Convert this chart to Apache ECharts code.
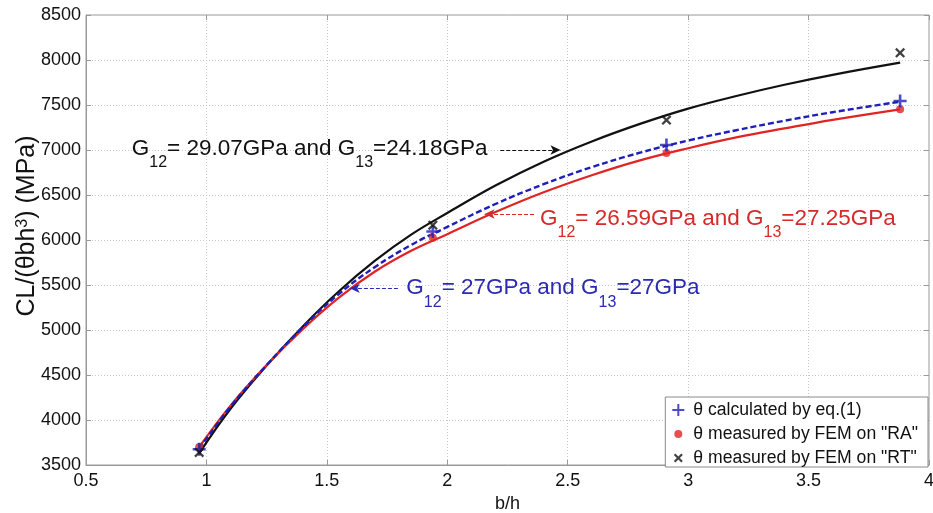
<!DOCTYPE html>
<html>
<head>
<meta charset="utf-8">
<script src="https://cdn.jsdelivr.net/npm/echarts@6/dist/echarts.min.js"></script>
<style>
html,body{margin:0;padding:0;background:#fff;}
#chart{width:933px;height:513px;}
</style>
</head>
<body>
<div id="chart"></div>
<script>
// ---- data ----
const curveX = [0.97, 1.1, 1.25, 1.4, 1.55, 1.7, 1.85, 2.0, 2.2, 2.4, 2.6, 2.8, 3.0, 3.2, 3.4, 3.6, 3.88];
const curveBlack = [3630, 4125, 4605, 5040, 5430, 5770, 6060, 6300, 6605, 6870, 7095, 7290, 7460, 7600, 7725, 7835, 7970];
const curveBlue  = [3680, 4150, 4610, 5030, 5400, 5700, 5945, 6145, 6400, 6620, 6810, 6970, 7105, 7220, 7325, 7420, 7537];
const curveRed   = [3700, 4160, 4610, 5010, 5360, 5650, 5880, 6065, 6310, 6530, 6720, 6885, 7020, 7140, 7240, 7335, 7452];

const pointX = [0.97, 1.94, 2.91, 3.88];
const ptCalc = [3675, 6095, 7055, 7545];   // + theta calculated by eq.(1)
const ptRA   = [3700, 6025, 6967, 7452];   // red dots, FEM "RA"
const ptRT   = [3640, 6165, 7333, 8080];   // black x, FEM "RT"

const xTicks = ['0.5', '1', '1.5', '2', '2.5', '3', '3.5', '4'];
const yTicks = [3500, 4000, 4500, 5000, 5500, 6000, 6500, 7000, 7500, 8000, 8500];

const legendNames = ['\u03b8 calculated by eq.(1)', '\u03b8 measured by FEM on "RA"', '\u03b8 measured by FEM on "RT"'];
const yTitle = 'CL/(\u03b8bh{sup|3}) (MPa)';
const xTitle = 'b/h';

// annotation anchors (data coords): text start, arrow tail -> arrow tip
const annBlack = {x: 0.69, y: 6955, ax0: 2.22, ax1: 2.47, ay: 7000, g12: '29.07', g13: '24.18'};
const annRed   = {x: 2.385, y: 6180, ax0: 2.36, ax1: 2.155, ay: 6289, g12: '26.59', g13: '27.25'};
const annBlue  = {x: 1.83, y: 5405, ax0: 1.795, ax1: 1.595, ay: 5463, g12: '27', g13: '27'};

const BLUE = '#1f1fb8', RED = '#e02424', BLACK = '#111111';
const FONT = '"Liberation Sans", Arial, sans-serif';

const PLUS = 'path://M4,0 H6 V4 H10 V6 H6 V10 H4 V6 H0 V4 H4 Z';
const CROSS = 'path://M0,1.6 L1.6,0 L5,3.4 L8.4,0 L10,1.6 L6.6,5 L10,8.4 L8.4,10 L5,6.6 L1.6,10 L0,8.4 L3.4,5 Z';
const PLUS_ICON = 'path://M0,0 M12,12 M5,0 H7 V5 H12 V7 H7 V12 H5 V7 H0 V5 H5 Z';
const DOT_ICON = 'path://M0,0 M12,12 M6,2 A4,4 0 1,1 6,10 A4,4 0 1,1 6,2 Z';
const CROSS_ICON = 'path://M0,0 M12,12 M1.5,3 L3,1.5 L6,4.5 L9,1.5 L10.5,3 L7.5,6 L10.5,9 L9,10.5 L6,7.5 L3,10.5 L1.5,9 L4.5,6 Z';

function zip(xs, ys){ return xs.map((x, i) => [x, ys[i]]); }

function annText(a, color){
  return {
    show: true,
    formatter: '{m|G}{s|12}{m|= ' + a.g12 + 'GPa and G}{s|13}{m|=' + a.g13 + 'GPa}',
    position: 'right', distance: 0,
    rich: {
      m: {fontSize: 22.5, color: color, fontFamily: FONT, verticalAlign: 'top'},
      s: {fontSize: 16, color: color, fontFamily: FONT, verticalAlign: 'top', padding: [18, 0, 0, 0]}
    }
  };
}

function annotate(a, color){
  return {
    markPoint: {
      silent: true, animation: false, symbol: 'circle', symbolSize: 0,
      data: [{coord: [a.x, a.y], label: annText(a, color)}]
    },
    markLine: {
      silent: true, animation: false, symbol: ['none', 'arrow'], symbolSize: [7, 10],
      label: {show: false},
      lineStyle: {type: [4, 2], width: 1, color: color},
      data: [[{coord: [a.ax0, a.ay]}, {coord: [a.ax1, a.ay]}]]
    }
  };
}

const chart = echarts.init(document.getElementById('chart'), null, {renderer: 'canvas'});

const option = {
  animation: false,
  backgroundColor: '#fff',
  textStyle: {fontFamily: FONT},
  grid: {left: 86, right: 4, top: 15, bottom: 48, containLabel: false, outerBoundsMode: 'none',
    show: true, borderColor: '#9a9a9a', borderWidth: 1},
  graphic: [{
    type: 'text', x: 27, y: 226, rotation: Math.PI / 2, silent: true,
    style: {
      text: yTitle, fill: '#111', font: '25px ' + FONT, align: 'center', verticalAlign: 'middle',
      rich: {sup: {fontSize: 16, fill: '#111', fontFamily: FONT, verticalAlign: 'top'}}
    }
  }],
  xAxis: [{
    type: 'value', min: 0.5, max: 4, interval: 0.5,
    name: xTitle, nameLocation: 'middle', nameGap: 22,
    nameTextStyle: {fontSize: 18, color: '#111', fontFamily: FONT},
    axisLine: {show: true, lineStyle: {color: '#9a9a9a'}},
    axisTick: {show: true, inside: true, length: 5, lineStyle: {color: '#9a9a9a'}},
    axisLabel: {fontSize: 18, color: '#111', margin: 7, fontFamily: FONT,
      formatter: v => xTicks[Math.round((v - 0.5) / 0.5)]},
    splitLine: {show: true, lineStyle: {type: [1, 2], color: '#c8c8c8'}}
  }, {
    type: 'value', position: 'top', min: 0.5, max: 4, interval: 0.5,
    axisLine: {show: false}, axisLabel: {show: false}, splitLine: {show: false},
    axisTick: {show: true, inside: true, length: 5, lineStyle: {color: '#9a9a9a'}}
  }],
  yAxis: [{
    type: 'value', min: 3500, max: 8500, interval: 500,
    axisLine: {show: true, lineStyle: {color: '#9a9a9a'}},
    axisTick: {show: true, inside: true, length: 5, lineStyle: {color: '#9a9a9a'}},
    axisLabel: {fontSize: 18, color: '#111', margin: 5, fontFamily: FONT,
      formatter: v => yTicks.indexOf(v) >= 0 ? String(v) : ''},
    splitLine: {show: true, lineStyle: {type: [1, 2], color: '#c8c8c8'}}
  }, {
    type: 'value', position: 'right', min: 3500, max: 8500, interval: 500,
    axisLine: {show: false}, axisLabel: {show: false}, splitLine: {show: false},
    axisTick: {show: true, inside: true, length: 5, lineStyle: {color: '#9a9a9a'}}
  }],
  legend: {
    orient: 'vertical', right: 5, bottom: 46,
    backgroundColor: '#fff', borderColor: '#8a8a8a', borderWidth: 1, borderRadius: 0,
    padding: [4, 10, 0, 7], itemGap: 6, itemWidth: 20, itemHeight: 12,
    textStyle: {fontSize: 17.6, color: '#111', fontFamily: FONT},
    data: [
      {name: legendNames[0], icon: PLUS_ICON},
      {name: legendNames[1], icon: DOT_ICON},
      {name: legendNames[2], icon: CROSS_ICON}
    ]
  },
  series: [
    Object.assign({
      name: 'black-curve', type: 'line', smooth: 0.4, showSymbol: false, symbol: 'none',
      data: zip(curveX, curveBlack), lineStyle: {color: BLACK, width: 2.2}, z: 3
    }, annotate(annBlack, BLACK)),
    Object.assign({
      name: 'red-curve', type: 'line', smooth: 0.4, showSymbol: false, symbol: 'none',
      data: zip(curveX, curveRed), lineStyle: {color: RED, width: 2.2}, z: 3
    }, annotate(annRed, '#d42a2a')),
    Object.assign({
      name: 'blue-curve', type: 'line', smooth: 0.4, showSymbol: false, symbol: 'none',
      data: zip(curveX, curveBlue), lineStyle: {color: BLUE, width: 2.4, type: [6, 3]}, z: 4
    }, annotate(annBlue, '#2a2ab4')),
    {name: legendNames[0], type: 'scatter', symbol: PLUS, symbolSize: 13,
      data: zip(pointX, ptCalc), itemStyle: {color: BLUE}, z: 6},
    {name: legendNames[1], type: 'scatter', symbol: 'circle', symbolSize: 8,
      data: zip(pointX, ptRA), itemStyle: {color: RED}, z: 5},
    {name: legendNames[2], type: 'scatter', symbol: CROSS, symbolSize: 10,
      data: zip(pointX, ptRT), itemStyle: {color: BLACK}, z: 6}
  ]
};
chart.setOption(option);
</script>
</body>
</html>
